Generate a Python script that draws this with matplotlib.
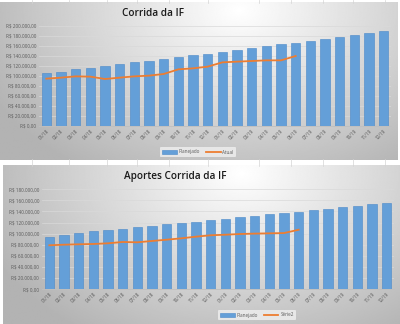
import numpy as np
import matplotlib
matplotlib.use('Agg')
import matplotlib.pyplot as plt
from matplotlib.lines import Line2D

plt.rcParams['font.family'] = ['Open Sans', 'DejaVu Sans']

months = ['01/18', '02/18', '03/18', '04/18', '05/18', '06/18', '07/18', '08/18',
          '09/18', '10/18', '11/18', '12/18', '01/19', '02/19', '03/19', '04/19',
          '05/19', '06/19', '07/19', '08/19', '09/19', '10/19', '11/19', '12/19']

# Corrida da IF
planejado_1 = [106000, 108700, 113000, 116700, 120000, 123300, 127300, 130000,
               134000, 138000, 141300, 144000, 148000, 151300, 155300, 160000,
               163300, 166700, 170700, 174000, 178700, 182700, 186000, 190000]
atual_1 = [94700, 96700, 99300, 98700, 94000, 96700, 99300, 100700, 104000,
           113300, 115300, 118700, 127300, 128700, 130000, 131300, 131300, 140000]

# Aportes Corrida da IF
planejado_2 = [94500, 97000, 101000, 104700, 106600, 109000, 112000, 113800,
               116800, 119800, 121600, 124000, 127000, 130000, 131800, 134800,
               137900, 139700, 142000, 145000, 147500, 150500, 153000, 155300]
serie2_2 = [78900, 80000, 80700, 81300, 82500, 84900, 84300, 86700, 89000,
            91500, 94500, 97000, 98000, 99300, 100000, 100500, 101000, 107000]

BAR = '#649fd8'
BAR_EDGE = '#4a88c8'
LINE = '#ed7d31'
TXT = '#595959'


def brl(v, pos=None):
    s = f"{v:,.2f}".replace(',', 'X').replace('.', ',').replace('X', '.')
    return 'R$ ' + s


def background(fig, rect):
    ax = fig.add_axes(rect, zorder=0)
    h, w = 200, 400
    yy, xx = np.mgrid[0:h, 0:w]
    d = np.sqrt(((xx - 0.6 * w) / (0.75 * w)) ** 2 + ((yy - 0.05 * h) / (1.3 * h)) ** 2)
    g = np.clip(1.0 - 0.32 * d, 0.70, 1.0)
    ax.imshow(g, cmap='gray', vmin=0, vmax=1, aspect='auto', extent=[0, 1, 0, 1])
    ax.set_axis_off()


def chart(fig, rect, planejado, linha, ymax, title, tpos, lname, lpos):
    ax = fig.add_axes(rect, zorder=2)
    ax.patch.set_alpha(0)
    x = np.arange(len(months))
    bars = ax.bar(x, planejado, width=0.63, color=BAR, edgecolor=BAR_EDGE,
                  linewidth=0.4, label='Planejado', zorder=3)
    ln, = ax.plot(x[:len(linha)], linha, color=LINE, lw=1.3, label=lname, zorder=4)
    ax.set_xlim(-0.5, len(months) - 0.5)
    ax.set_ylim(0, ymax)
    ax.set_yticks(np.arange(0, ymax + 1, 20000))
    ax.yaxis.set_major_formatter(brl)
    ax.set_xticks(x)
    ax.set_xticklabels(months, rotation=45, ha='right', rotation_mode='anchor')
    ax.tick_params(axis='both', length=0, labelsize=3.3, labelcolor=TXT, pad=2)
    ax.grid(axis='y', color='#d9d9d9', lw=0.5, zorder=0)
    for s in ['top', 'right', 'left']:
        ax.spines[s].set_visible(False)
    ax.spines['bottom'].set_color('#bfbfbf')
    ax.spines['bottom'].set_linewidth(0.6)
    fig.text(tpos[0], tpos[1], title, ha='center', va='center', fontsize=7.2,
             fontweight='semibold', color='#1a1a1a')
    leg = ax.legend([bars, ln], ['Planejado', lname], loc='center',
                    bbox_to_anchor=lpos, bbox_transform=fig.transFigure,
                    ncol=2, fontsize=3.3, frameon=True, handlelength=3.2,
                    columnspacing=1.2, handletextpad=0.4, borderpad=0.5)
    leg.get_frame().set_facecolor('#f0f0f0')
    leg.get_frame().set_edgecolor('none')
    for t in leg.get_texts():
        t.set_color(TXT)
    return ax


fig = plt.figure(figsize=(4, 3.24), dpi=100)
fig.patch.set_facecolor('white')

# spreadsheet cell borders visible around the charts
for xc in [32, 69, 107, 137, 169, 208, 259, 291, 323, 353, 385]:
    fig.add_artist(Line2D([xc / 400, xc / 400], [1 - 166 / 324, 1 - 159 / 324],
                          color='#d4d4d4', lw=0.5, zorder=1))
    fig.add_artist(Line2D([xc / 400, xc / 400], [1 - 3 / 324, 1.0],
                          color='#d4d4d4', lw=0.5, zorder=1))

background(fig, [0.0, 1 - 160 / 324, 398 / 400, 158 / 324])
background(fig, [3 / 400, 0.0, 397 / 400, 159 / 324])

chart(fig, [39 / 400, 1 - 126 / 324, 352 / 400, 100 / 324], planejado_1, atual_1,
      200000, 'Corrida da IF', (153 / 400, 1 - 13 / 324), 'Atual',
      (198 / 400, 1 - 152 / 324))
chart(fig, [42 / 400, 1 - 289 / 324, 352 / 400, 99.7 / 324], planejado_2, serie2_2,
      180000, 'Aportes Corrida da IF', (175 / 400, 1 - 177 / 324), 'Série2',
      (257 / 400, 1 - 315 / 324))

fig.savefig('out.png', dpi=100)
